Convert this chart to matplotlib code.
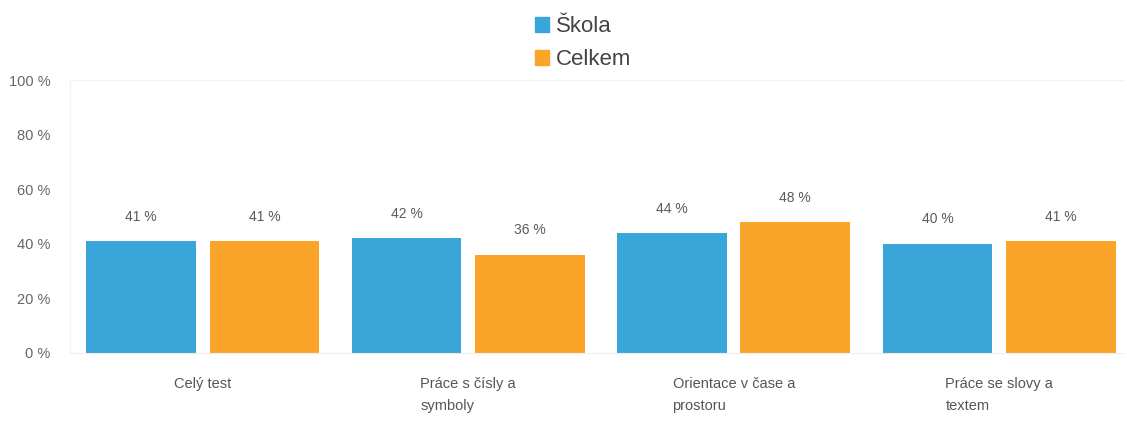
import matplotlib
matplotlib.use("Agg")
import matplotlib.pyplot as plt
import numpy as np
from matplotlib.patches import Patch

categories = ["Celý test", "Práce s čísly a\nsymboly", "Orientace v čase a\nprostoru", "Práce se slovy a\ntextem"]
series_names = ["Škola", "Celkem"]
skola = [41, 42, 44, 40]
celkem = [41, 36, 48, 41]
y_ticks = [0, 20, 40, 60, 80, 100]
y_tick_labels = ["0 %", "20 %", "40 %", "60 %", "80 %", "100 %"]

blue = "#3aa5d8"
orange = "#faa52a"

plt.rcParams['font.family'] = ['Liberation Sans', 'DejaVu Sans']

fig = plt.figure(figsize=(11.27, 4.21), dpi=100)
ax = fig.add_axes([70/1127, 1-353/421, 1-70/1127 - 3/1127, (353-80)/421])

x = np.arange(len(categories))
w = 0.413
off = 0.232
b1 = ax.bar(x - off, skola, w, color=blue)
b2 = ax.bar(x + off, celkem, w, color=orange)

for bars, vals in ((b1, skola), (b2, celkem)):
    for rect, v in zip(bars, vals):
        ax.annotate(f"{v} %", (rect.get_x() + rect.get_width()/2, rect.get_height()),
                    xytext=(0, 17.5), textcoords="offset points", ha="center", va="center",
                    fontsize=10, color="#5a5a5a")

ax.set_xlim(-0.5, 3.47)
ax.set_ylim(0, 100)
ax.set_yticks(y_ticks)
ax.set_yticklabels(y_tick_labels, fontsize=10.5, color="#666666")
ax.set_xticks(x)
ax.set_xticklabels(categories, fontsize=10.5, color="#555555", linespacing=1.75,
                   multialignment="left", va="top")
ax.tick_params(axis="both", length=0)
ax.tick_params(axis="y", pad=14)
ax.tick_params(axis="x", pad=17)

for s in ["top", "right"]:
    ax.spines[s].set_visible(False)
ax.spines["left"].set_color("#f2f2f2")
ax.spines["bottom"].set_color("#eeeeee")
ax.axhline(100, color="#f2f2f2", lw=0.8)

handles = [Patch(color=blue), Patch(color=orange)]
fig.legend(handles, series_names, loc="upper left", bbox_to_anchor=(535/1127, 1 - 16/421),
           frameon=False, fontsize=16, handlelength=0.65, handleheight=0.65,
           handletextpad=0.3, labelspacing=0.55, borderpad=0, borderaxespad=0,
           labelcolor="#444444")

fig.savefig("out.png", dpi=100, facecolor="white")
